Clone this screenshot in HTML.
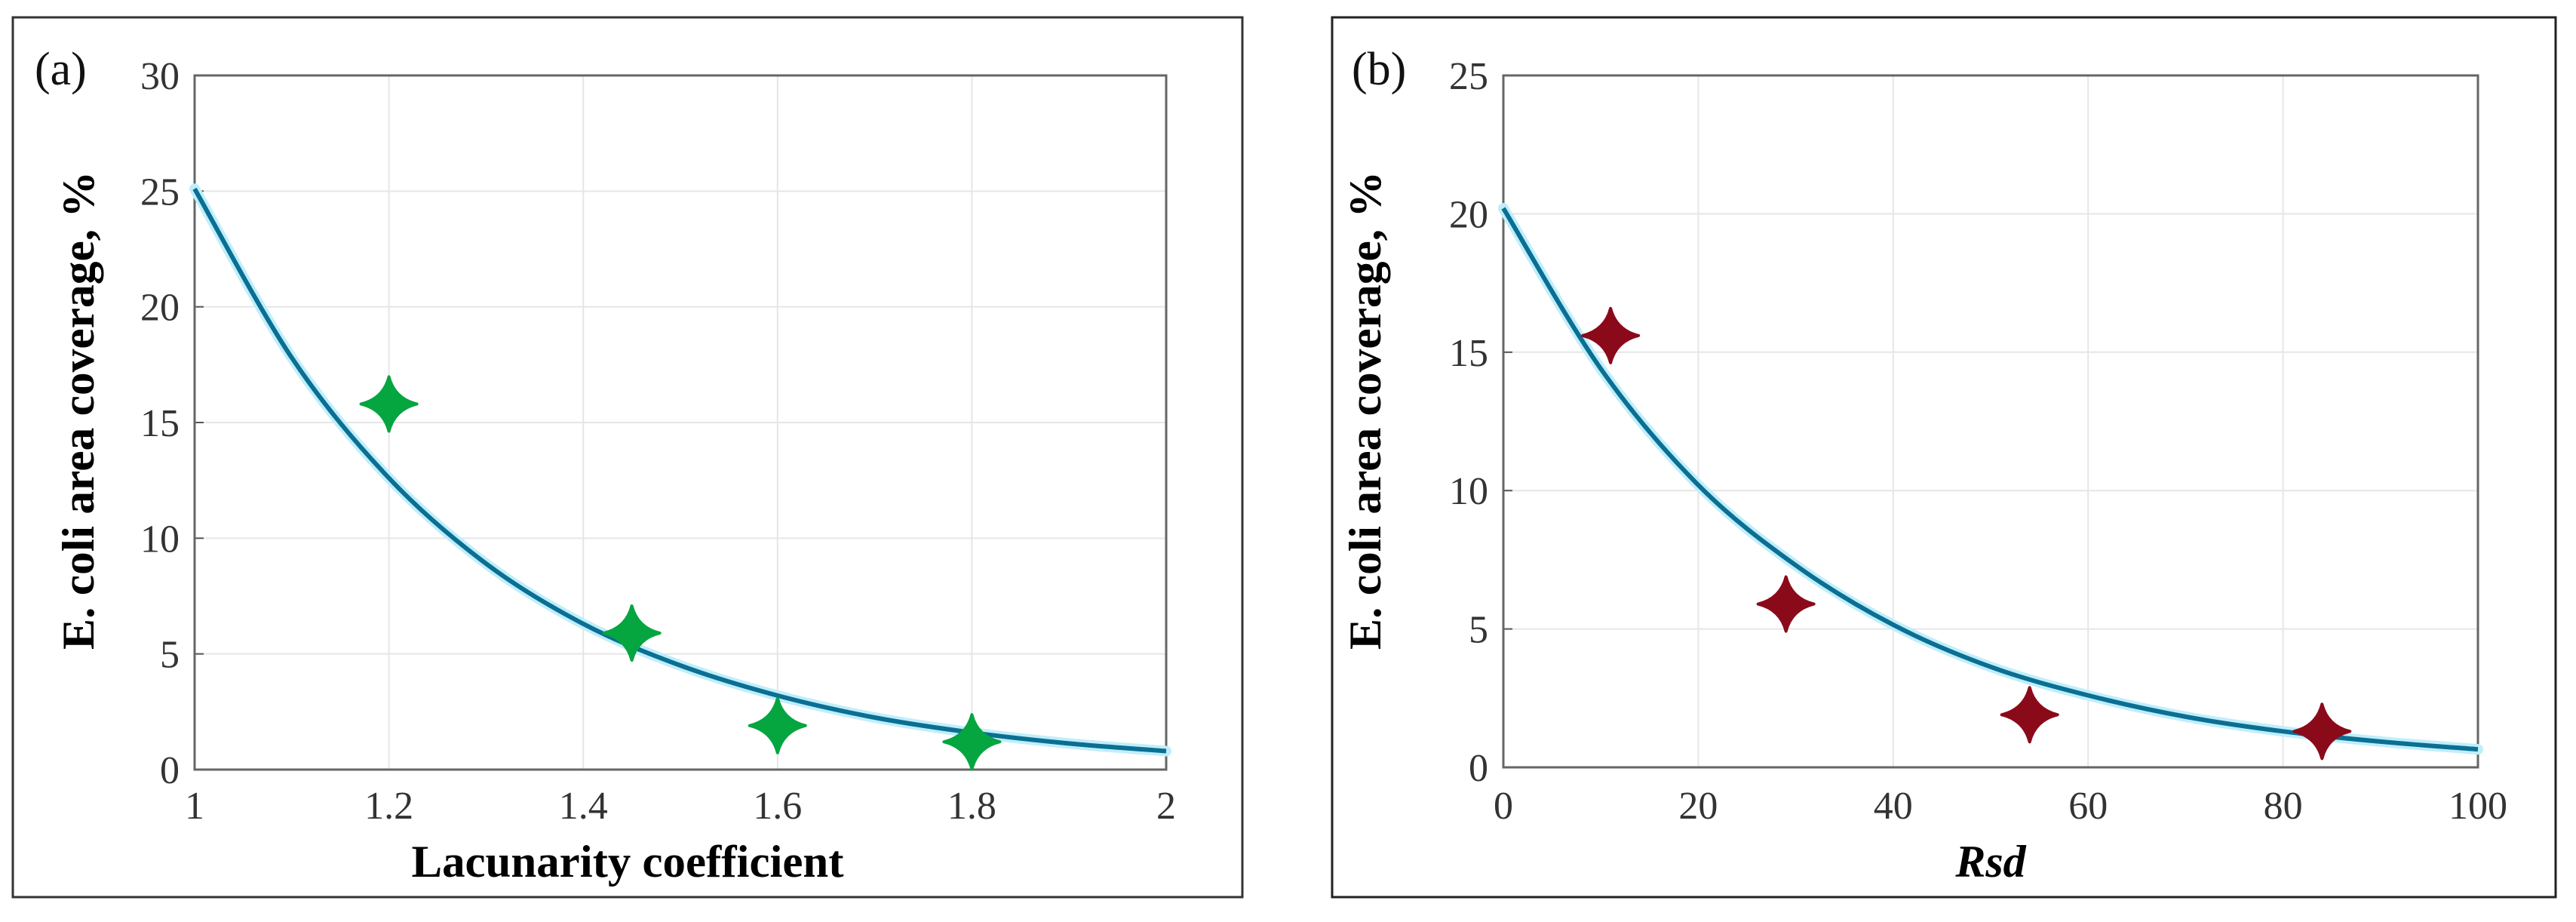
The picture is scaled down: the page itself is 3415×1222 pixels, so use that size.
<!DOCTYPE html>
<html><head><meta charset="utf-8">
<style>
html,body{margin:0;padding:0;background:#fff;}
svg{display:block;}
text{font-family:"Liberation Serif",serif;}
</style></head>
<body>
<svg id="fig" width="3415" height="1222" viewBox="0 0 3415 1222" xmlns="http://www.w3.org/2000/svg">
<rect x="17" y="23" width="1630" height="1166" fill="#fff" stroke="#333" stroke-width="3"/>
<rect x="1766" y="23" width="1622" height="1166" fill="#fff" stroke="#222" stroke-width="3"/>
<text x="46" y="112" font-size="62" fill="#111">(a)</text>
<text x="1792" y="112" font-size="62" fill="#111">(b)</text>
<g id="ga"></g>
<g id="gb"></g>
</svg>
<script>
// Panel (a) data
const aXTicks = [1, 1.2, 1.4, 1.6, 1.8, 2];
const aXTickLabels = ["1", "1.2", "1.4", "1.6", "1.8", "2"];
const aYTicks = [0, 5, 10, 15, 20, 25, 30];
const aYTickLabels = ["0", "5", "10", "15", "20", "25", "30"];
const aPointsX = [1.2, 1.45, 1.6, 1.8];
const aPointsY = [15.8, 5.9, 1.9, 1.2];
const aCurveX = [1, 1.1, 1.2, 1.3, 1.4, 1.5, 1.6, 1.7, 1.8, 1.9, 2];
const aCurveY = [25.1, 17.8, 12.6, 8.9, 6.3, 4.5, 3.2, 2.25, 1.6, 1.13, 0.8];
// Panel (b) data
const bXTicks = [0, 20, 40, 60, 80, 100];
const bXTickLabels = ["0", "20", "40", "60", "80", "100"];
const bYTicks = [0, 5, 10, 15, 20, 25];
const bYTickLabels = ["0", "5", "10", "15", "20", "25"];
const bPointsX = [11, 29, 54, 84];
const bPointsY = [15.6, 5.9, 1.9, 1.3];
const bCurveX = [0, 10, 20, 30, 40, 50, 60, 70, 80, 90, 100];
const bCurveY = [20.2, 14.4, 10.2, 7.3, 5.15, 3.63, 2.6, 1.83, 1.3, 0.93, 0.65];

const NS = "http://www.w3.org/2000/svg";
function mk(tag, attrs, parent) {
  const e = document.createElementNS(NS, tag);
  for (const k in attrs) e.setAttribute(k, attrs[k]);
  parent.appendChild(e);
  return e;
}
function smoothPath(pts) {
  let d = "M" + pts[0][0] + "," + pts[0][1];
  for (let i = 0; i < pts.length - 1; i++) {
    const p0 = pts[Math.max(0, i - 1)], p1 = pts[i], p2 = pts[i + 1], p3 = pts[Math.min(pts.length - 1, i + 2)];
    const c1x = p1[0] + (p2[0] - p0[0]) / 6, c1y = p1[1] + (p2[1] - p0[1]) / 6;
    const c2x = p2[0] - (p3[0] - p1[0]) / 6, c2y = p2[1] - (p3[1] - p1[1]) / 6;
    d += " C" + c1x + "," + c1y + " " + c2x + "," + c2y + " " + p2[0] + "," + p2[1];
  }
  return d;
}
function star(cx, cy, rx, ry) {
  const ix = rx * 0.2, iy = ry * 0.2;
  return "M" + cx + "," + (cy - ry) +
    " Q" + (cx + ix) + "," + (cy - iy) + " " + (cx + rx) + "," + cy +
    " Q" + (cx + ix) + "," + (cy + iy) + " " + cx + "," + (cy + ry) +
    " Q" + (cx - ix) + "," + (cy + iy) + " " + (cx - rx) + "," + cy +
    " Q" + (cx - ix) + "," + (cy - iy) + " " + cx + "," + (cy - ry) + " Z";
}
function drawChart(g, cfg) {
  const sx = v => cfg.left + (v - cfg.xmin) / (cfg.xmax - cfg.xmin) * (cfg.right - cfg.left);
  const sy = v => cfg.bottom - (v - cfg.ymin) / (cfg.ymax - cfg.ymin) * (cfg.bottom - cfg.top);
  cfg.xTicks.forEach((t, i) => {
    const x = sx(t);
    const gl = mk("line", {x1: x, x2: x, y1: cfg.top, y2: cfg.bottom, stroke: "#e6e6e6", "stroke-width": 2}, g);
    
    
    const tx = mk("text", {x: x, y: 1085, "font-size": 52, fill: "#333", "text-anchor": "middle"}, g);
    tx.textContent = cfg.xLabels[i];
    
    
  });
  cfg.yTicks.forEach((t, i) => {
    const y = sy(t);
    const gl = mk("line", {x1: cfg.left, x2: cfg.right, y1: y, y2: y, stroke: "#e6e6e6", "stroke-width": 2}, g);
    
    
    const tk = mk("line", {x1: cfg.left, x2: cfg.left + 12, y1: y, y2: y, stroke: "#555", "stroke-width": 2}, g);
    
    
    const tx = mk("text", {x: cfg.left - 20, y: y + 18, "font-size": 52, fill: "#333", "text-anchor": "end"}, g);
    tx.textContent = cfg.yLabels[i];
    
    
  });
  const box = mk("rect", {x: cfg.left, y: cfg.top, width: cfg.right - cfg.left, height: cfg.bottom - cfg.top, fill: "none", stroke: "#666", "stroke-width": 3}, g);
  
  
  const pts = cfg.cx.map((v, i) => [sx(v), sy(cfg.cy[i])]);
  const glow = mk("path", {d: smoothPath(pts), fill: "none", stroke: "#bfeefa", "stroke-width": 14, "stroke-linecap": "round"}, g);
  
  
  const line = mk("path", {d: smoothPath(pts), fill: "none", stroke: "#0b6f93", "stroke-width": 6}, g);
  
  
  cfg.px.forEach((v, i) => {
    const s = mk("path", {d: star(sx(v), sy(cfg.py[i]), 37, 36), fill: cfg.color, stroke: cfg.color, "stroke-width": 4, "stroke-linejoin": "round"}, g);
    
    
  });
  const xl = mk("text", {x: (cfg.left + cfg.right) / 2 + cfg.xlOff, y: 1162, "font-size": 60, "font-weight": "bold", fill: "#000", "text-anchor": "middle", "font-style": cfg.xItalic ? "italic" : "normal"}, g);
  if (cfg.xLen) { xl.setAttribute("textLength", cfg.xLen); xl.setAttribute("lengthAdjust", "spacingAndGlyphs"); }
  xl.textContent = cfg.xTitle;
  
  
  const cyc = 544;
  const yl = mk("text", {x: 0, y: 0, "font-size": 60, "font-weight": "bold", fill: "#000", "text-anchor": "middle", transform: "translate(" + cfg.ylX + "," + cyc + ") rotate(-90)", textLength: 634, lengthAdjust: "spacingAndGlyphs"}, g);
  yl.textContent = "E. coli area coverage, %";
  
  
}
drawChart(document.getElementById("ga"), {
  left: 258, right: 1546, top: 100, bottom: 1020, xmin: 1, xmax: 2, ymin: 0, ymax: 30,
  xTicks: aXTicks, xLabels: aXTickLabels, yTicks: aYTicks, yLabels: aYTickLabels,
  px: aPointsX, py: aPointsY, cx: aCurveX, cy: aCurveY, color: "#05a540",
  xTitle: "Lacunarity coefficient", xLen: 573, xlOff: -70, xItalic: false, ylX: 124
});
drawChart(document.getElementById("gb"), {
  left: 1993, right: 3285, top: 100, bottom: 1017, xmin: 0, xmax: 100, ymin: 0, ymax: 25,
  xTicks: bXTicks, xLabels: bXTickLabels, yTicks: bYTicks, yLabels: bYTickLabels,
  px: bPointsX, py: bPointsY, cx: bCurveX, cy: bCurveY, color: "#8b0a1a",
  xTitle: "Rsd", xLen: 0, xlOff: 0, xItalic: true, ylX: 1830
});
</script>
</body></html>
